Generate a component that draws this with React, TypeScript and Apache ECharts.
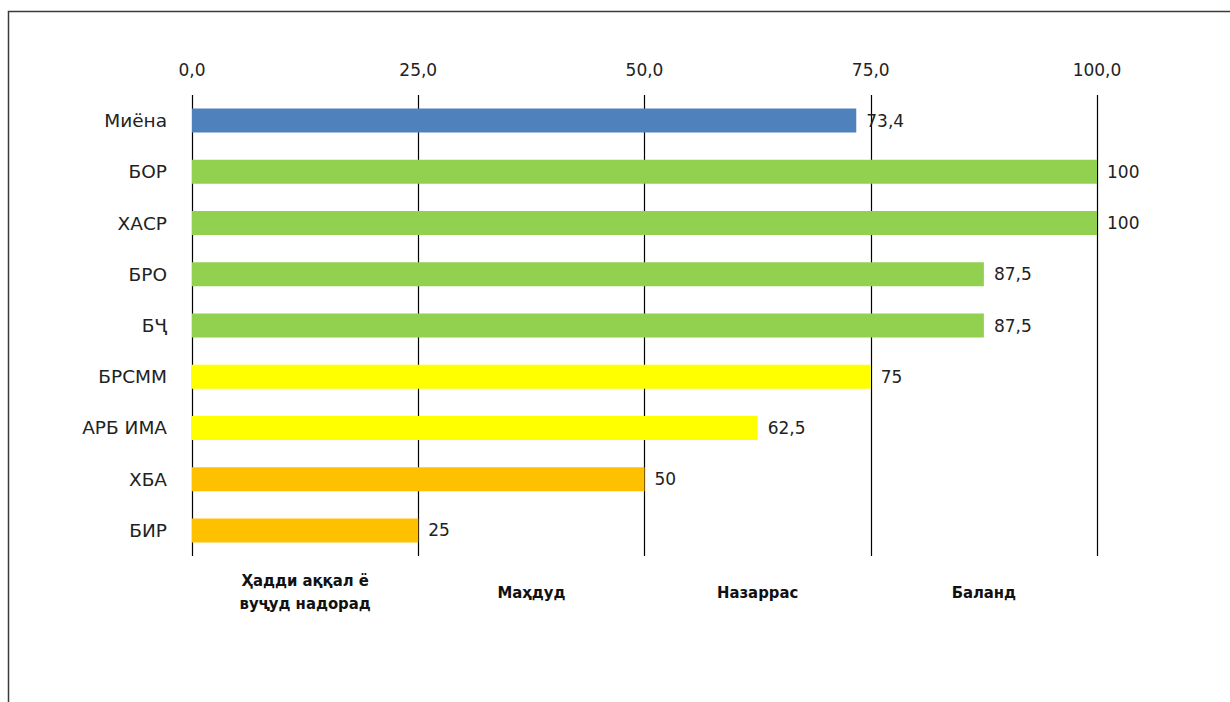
import React, { useEffect, useRef } from "react";
import * as echarts from "echarts";

const categories = ["Миёна", "БОР", "ХАСР", "БРО", "БҶ", "БРСММ", "АРБ ИМА", "ХБА", "БИР"];
const values = [73.4, 100, 100, 87.5, 87.5, 75, 62.5, 50, 25];
const levels = ["avg", "high", "high", "high", "high", "mid", "mid", "low", "low"];
const levelColors: Record<string, string> = {
  avg: "#4F81BD",
  high: "#92D050",
  mid: "#FFFF00",
  low: "#FFC000",
};
const bandLabels = ["Ҳадди аққал ё\nвуҷуд надорад", "Маҳдуд", "Назаррас", "Баланд"];
const axisMin = 0;
const axisMax = 100;
const axisStep = 25;

const fmt = (v: number, digits?: number) =>
  (digits === undefined ? String(v) : v.toFixed(digits)).replace(".", ",");

export default function App() {
  const ref = useRef<HTMLDivElement>(null);
  useEffect(() => {
    if (!ref.current) return;
    const chart = echarts.init(ref.current, undefined, { renderer: "svg" });
    chart.setOption({
      animation: false,
      backgroundColor: "#ffffff",
      graphic: [
        {
          type: "rect",
          shape: { x: 8.5, y: 11.5, width: 1240, height: 720 },
          style: { fill: "none", stroke: "#3a3a3a", lineWidth: 1.5 },
          silent: true,
        },
      ],
      grid: { left: 192, right: 133, top: 95, bottom: 146, containLabel: false },
      xAxis: [
        {
          type: "value",
          position: "top",
          min: axisMin,
          max: axisMax,
          interval: axisStep,
          axisLine: { show: false },
          axisTick: { show: false },
          splitLine: { show: true, lineStyle: { color: "#000000", width: 1.2 } },
          axisLabel: {
            formatter: (v: number) => fmt(v, 1),
            fontFamily: "DejaVu Sans",
            fontSize: 17,
            color: "#222222",
            margin: 17,
          },
        },
        {
          type: "category",
          position: "bottom",
          data: bandLabels,
          axisLine: { show: false },
          axisTick: { show: false },
          splitLine: { show: false },
          axisLabel: {
            interval: 0,
            fontFamily: "Liberation Sans Narrow, DejaVu Sans Condensed, sans-serif",
            fontWeight: "bold",
            fontSize: 16.5,
            lineHeight: 23,
            color: "#111111",
            verticalAlign: "middle",
            margin: 36,
          },
        },
      ],
      yAxis: {
        type: "category",
        inverse: true,
        data: categories,
        axisLine: { show: false },
        axisTick: { show: false },
        axisLabel: {
          fontFamily: "DejaVu Sans",
          fontSize: 18.5,
          color: "#222222",
          margin: 25,
        },
      },
      series: [
        {
          type: "bar",
          xAxisIndex: 0,
          barWidth: 24,
          data: values.map((v, i) => ({
            value: v,
            itemStyle: { color: levelColors[levels[i]] },
          })),
          label: {
            show: true,
            position: "right",
            distance: 10,
            formatter: (p: any) => fmt(p.value),
            fontFamily: "DejaVu Sans",
            fontSize: 17,
            color: "#222222",
          },
        },
      ],
    });
    return () => chart.dispose();
  }, []);
  return (
    <div
      ref={ref}
      style={{ position: "absolute", left: 0, top: 0, width: 1230, height: 702 }}
    />
  );
}
